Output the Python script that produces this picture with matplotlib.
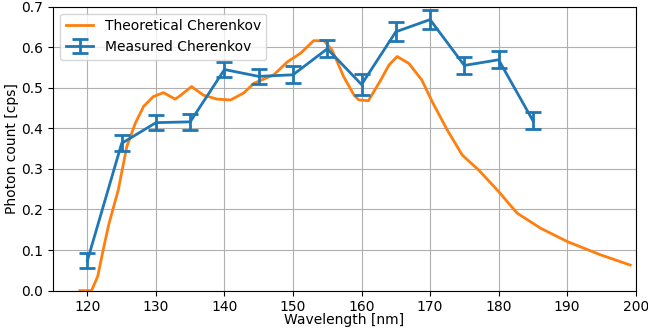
import matplotlib
matplotlib.use('Agg')
import matplotlib.pyplot as plt
import numpy as np

# measured points
meas_wl = [120, 125, 130, 135, 140, 145, 150, 155, 160, 165, 170, 175, 180, 185]
meas_cps = [0.074, 0.363, 0.414, 0.416, 0.545, 0.528, 0.532, 0.596, 0.508, 0.638, 0.668, 0.555, 0.569, 0.419]
meas_err = [0.019, 0.020, 0.019, 0.019, 0.019, 0.019, 0.021, 0.021, 0.026, 0.023, 0.023, 0.020, 0.021, 0.021]

# theoretical curve
theo_wl = [118.9, 120.6, 121.5, 122.3, 123.1, 124.5, 125.75, 127.0, 128.2, 129.6,
           131.1, 132.8, 133.5, 135.2, 136.9, 138.9, 140.9, 142.8, 144.3, 145.8,
           147.2, 149.2, 151.1, 153.0, 154.5, 155.7, 157.4, 158.9, 159.6, 161.0,
           162.8, 164.0, 165.2, 166.9, 168.8, 170.3, 172.5, 174.7, 177.1, 179.8,
           182.7, 186.1, 190.0, 194.9, 199.2]
theo_cps = [0.0, 0.0, 0.035, 0.10, 0.162, 0.248, 0.355, 0.413, 0.454, 0.478,
            0.488, 0.472, 0.480, 0.503, 0.482, 0.472, 0.470, 0.487, 0.511, 0.522,
            0.532, 0.564, 0.585, 0.616, 0.616, 0.593, 0.527, 0.482, 0.470, 0.468,
            0.519, 0.556, 0.577, 0.560, 0.519, 0.466, 0.396, 0.334, 0.297, 0.248,
            0.191, 0.154, 0.121, 0.088, 0.063]

fig, ax = plt.subplots(figsize=(6.48, 3.31), dpi=100)
fig.subplots_adjust(left=0.082, right=0.981, top=0.980, bottom=0.122)

ax.plot(theo_wl, theo_cps, color='tab:orange', lw=2, label='Theoretical Cherenkov')
ax.errorbar(meas_wl, meas_cps, yerr=meas_err, color='tab:blue', lw=2,
            capsize=6, capthick=2, elinewidth=2, label='Measured Cherenkov')

ax.set_xlim(115, 200)
ax.set_ylim(0, 0.7)
ax.set_xticks(np.arange(120, 201, 10))
ax.grid(True)
ax.set_xlabel('Wavelength [nm]', labelpad=-1)
ax.set_ylabel('Photon count [cps]', labelpad=2)
ax.legend(loc='upper left')

fig.savefig('out.png', dpi=100)
